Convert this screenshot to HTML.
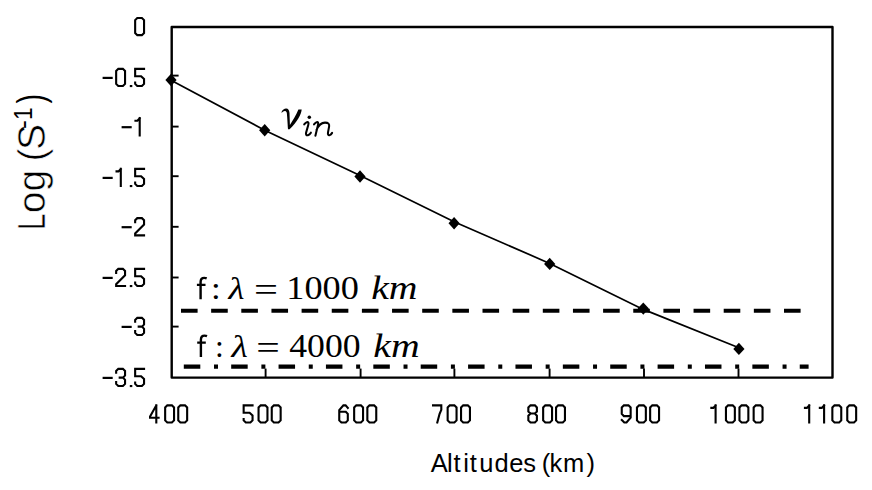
<!DOCTYPE html>
<html><head><meta charset="utf-8">
<style>
html,body{margin:0;padding:0;background:#fff;}
body{width:872px;height:490px;overflow:hidden;}
svg{display:block;}
text{fill:#000;}
</style></head>
<body>
<svg width="872" height="490" viewBox="0 0 872 490">
<defs>
<path id="g0" d="M3.2,1.05H7.8L9.95,3.2V16.1L7.8,18.25H3.2L1.05,16.1V3.2Z"/>
<path id="g1" d="M1.05,3.6H3L5.3,1.2M5.3,1.05V18.25"/>
<path id="g2" d="M1.05,5.2V3.2L3.2,1.05H7.8L9.95,3.2V7.5L1.05,16.4V18.25H9.95"/>
<path id="g3" d="M1.05,5V3.2L3.2,1.05H7.8L9.95,3.2V7.6L8,9.8H4.6M8,9.8L9.95,12V16.1L7.8,18.25H3.2L1.05,16.1V14.2"/>
<path id="g4" d="M7.3,1.05L1.05,12.3V13.4H9.6M7.3,1.05V18.25"/>
<path id="g5" d="M9.95,1.05H1.05V8.4H7L9.95,11.2V16.1L7.8,18.25H3.2L1.05,16.1V14.8"/>
<path id="g6" d="M9.6,3.6L7.4,1.05H5.2L1.05,5.8V16.1L3.2,18.25H7.6L9.6,16.1V9.6L7.6,7.4H1.05"/>
<path id="g7" d="M1.05,1.05H9.3V5.5L7.6,9.5L5.3,18.25"/>
<path id="g8" d="M3.2,1.05H7.6L9.6,3.2V7.2L7.6,9.2H3.2L1.05,7.2V3.2ZM3.2,9.2L1.05,11.4V16.1L3.2,18.25H7.6L9.6,16.1V11.4L7.6,9.2"/>
<path id="g9" d="M1.1,15.7L3.6,18.25H5.8L9.95,13.4V3.2L7.8,1.05H3.2L1.05,3.2V9.6L3.2,11.8H9.95"/>
</defs>
<rect width="872" height="490" fill="#fff"/>
<!-- plot frame -->
<rect x="171.7" y="27" width="660.8" height="350.6" fill="none" stroke="#000" stroke-width="2.4" stroke-linejoin="round"/>
<g stroke="#000" stroke-width="1.9">
<line x1="171.7" y1="75.6" x2="178.6" y2="75.6"/>
<line x1="171.7" y1="126.6" x2="178.6" y2="126.6"/>
<line x1="171.7" y1="176.2" x2="178.6" y2="176.2"/>
<line x1="171.7" y1="226.8" x2="178.6" y2="226.8"/>
<line x1="171.7" y1="277.5" x2="178.6" y2="277.5"/>
<line x1="171.7" y1="326.6" x2="178.6" y2="326.6"/>
<line x1="265.6" y1="377.6" x2="265.6" y2="368.6"/>
<line x1="360.6" y1="377.6" x2="360.6" y2="368.6"/>
<line x1="454.4" y1="377.6" x2="454.4" y2="368.6"/>
<line x1="549.6" y1="377.6" x2="549.6" y2="368.6"/>
<line x1="644" y1="377.6" x2="644" y2="368.6"/>
<line x1="738.5" y1="377.6" x2="738.5" y2="368.6"/>
</g>
<line x1="181" y1="310.8" x2="800.6" y2="310.8" stroke="#000" stroke-width="4.1" stroke-dasharray="16.6 13.55"/>
<line x1="183.8" y1="366.6" x2="808.6" y2="366.6" stroke="#000" stroke-width="4.1" stroke-dasharray="16.5 13.7 4 13.18"/>
<polyline points="171,80.3 264.7,130.2 360,175.4 454.1,221.7 549.7,263.4 643.3,309.4 738.9,347.8" fill="none" stroke="#000" stroke-width="1.7"/>
<g fill="#000">
<path d="M171.0,73.8 L176.6,80.0 L171.0,86.2 L165.4,80.0Z"/>
<path d="M264.7,124.1 L270.3,130.3 L264.7,136.5 L259.1,130.3Z"/>
<path d="M360.0,170.3 L365.6,176.5 L360.0,182.7 L354.4,176.5Z"/>
<path d="M454.1,217.1 L459.7,223.3 L454.1,229.5 L448.5,223.3Z"/>
<path d="M549.7,257.7 L555.3,263.9 L549.7,270.1 L544.1,263.9Z"/>
<path d="M643.3,302.4 L648.9,308.6 L643.3,314.8 L637.7,308.6Z"/>
<path d="M738.9,342.7 L744.5,348.9 L738.9,355.1 L733.3,348.9Z"/>
</g>
<!-- tick labels -->
<g fill="#000">
<g fill="none" stroke="#000" stroke-width="2.1" stroke-linecap="square">
<use href="#g0" x="134.1" y="16.9"/>
<rect fill="#000" stroke="none" x="102.6" y="76.8" width="10.1" height="2.2"/>
<use href="#g0" x="115.1" y="67.8"/>
<rect fill="#000" stroke="none" x="129.8" y="85.0" width="2.5" height="2.1"/>
<use href="#g5" x="134.1" y="67.8"/>
<rect fill="#000" stroke="none" x="121.6" y="126.1" width="10.1" height="2.2"/>
<use href="#g1" x="134.4" y="117.1"/>
<rect fill="#000" stroke="none" x="102.6" y="176.8" width="10.1" height="2.2"/>
<use href="#g1" x="115.5" y="167.8"/>
<rect fill="#000" stroke="none" x="129.8" y="185.0" width="2.5" height="2.1"/>
<use href="#g5" x="134.1" y="167.8"/>
<rect fill="#000" stroke="none" x="121.6" y="226.1" width="10.1" height="2.2"/>
<use href="#g2" x="134.1" y="217.1"/>
<rect fill="#000" stroke="none" x="102.6" y="276.8" width="10.1" height="2.2"/>
<use href="#g2" x="115.1" y="267.8"/>
<rect fill="#000" stroke="none" x="129.8" y="285.0" width="2.5" height="2.1"/>
<use href="#g5" x="134.1" y="267.8"/>
<rect fill="#000" stroke="none" x="121.6" y="325.8" width="10.1" height="2.2"/>
<use href="#g3" x="134.1" y="316.8"/>
<rect fill="#000" stroke="none" x="102.6" y="376.8" width="10.1" height="2.2"/>
<use href="#g3" x="115.1" y="367.8"/>
<rect fill="#000" stroke="none" x="129.8" y="385.0" width="2.5" height="2.1"/>
<use href="#g5" x="134.1" y="367.8"/>
<use href="#g4" x="149.0" y="404.3"/>
<use href="#g0" x="164.1" y="404.3"/>
<use href="#g0" x="177.2" y="404.3"/>
<use href="#g5" x="242.6" y="404.3"/>
<use href="#g0" x="257.5" y="404.3"/>
<use href="#g0" x="270.7" y="404.3"/>
<use href="#g6" x="338.2" y="404.3"/>
<use href="#g0" x="353.1" y="404.3"/>
<use href="#g0" x="366.3" y="404.3"/>
<use href="#g7" x="432.0" y="404.3"/>
<use href="#g0" x="446.6" y="404.3"/>
<use href="#g0" x="460.0" y="404.3"/>
<use href="#g8" x="527.3" y="404.3"/>
<use href="#g0" x="542.1" y="404.3"/>
<use href="#g0" x="555.0" y="404.3"/>
<use href="#g9" x="620.7" y="404.3"/>
<use href="#g0" x="635.9" y="404.3"/>
<use href="#g0" x="649.1" y="404.3"/>
<use href="#g1" x="710.3" y="404.3"/>
<use href="#g0" x="724.9" y="404.3"/>
<use href="#g0" x="738.4" y="404.3"/>
<use href="#g0" x="752.6" y="404.3"/>
<use href="#g1" x="803.9" y="404.3"/>
<use href="#g1" x="818.8" y="404.3"/>
<use href="#g0" x="831.3" y="404.3"/>
<use href="#g0" x="846.2" y="404.3"/>
</g>
</g>
<!-- axis titles -->
<text x="430.8 447.0 453.5 463.3 469.8 479.3 494.5 509.3 523.2 535 541.7 549.5 562.9 586.6" y="471.9" font-family="Liberation Sans" font-size="25.5">Altitudes (km)</text>
<g transform="translate(44.5,228.1) rotate(-90)" stroke="#fff" stroke-width="0.6">
<text transform="translate(-2.08,0) scale(0.77,1)" font-family="Liberation Sans" font-size="39">L</text>
<text x="14.9 36.5 50 66.5 78.2" y="0" font-family="Liberation Sans" font-size="39">og (S</text>
<text transform="translate(99,-12.8) scale(1,1)" font-family="Liberation Sans" font-size="26.7" stroke="none">-</text>
<text transform="translate(108.1,-12.4) scale(0.85,1)" font-family="Liberation Sans" font-size="26.7" stroke="none">1</text>
<text transform="translate(124.7,-0.5) scale(0.72,1)" font-family="Liberation Sans" font-size="39.6" stroke="none">)</text>
</g>
<!-- annotations -->
<path d="M200.6,299.2V282C200.6,278.6 202.2,277.9 204.3,277.9C205.2,277.9 206,278.1 206.7,278.4M196.9,284.9H205.5" fill="none" stroke="#000" stroke-width="2.4"/>
<text transform="translate(210.9,299.2) scale(1.129,1)" font-family="Liberation Serif" font-size="31">:</text>
<text transform="translate(228.6,299.2) scale(1.131,1)" font-family="Liberation Serif" font-size="32.5" font-style="italic">&#955;</text>
<text transform="translate(254.1,301.0) scale(1.289,1)" font-family="Liberation Serif" font-size="33">=</text>
<text transform="translate(286.3,299.2) scale(1.084,1)" font-family="Liberation Serif" font-size="33.5">1000</text>
<text transform="translate(371.2,299.2) scale(1.204,1)" font-family="Liberation Serif" font-size="33" font-style="italic">km</text>
<path d="M200.9,356.9V339.7C200.9,336.3 202.5,335.6 204.6,335.6C205.5,335.6 206.3,335.8 207,336.1M197.2,342.6H205.8" fill="none" stroke="#000" stroke-width="2.4"/>
<text transform="translate(215.0,356.9) scale(1.022,1)" font-family="Liberation Serif" font-size="31">:</text>
<text transform="translate(231.4,356.9) scale(1.159,1)" font-family="Liberation Serif" font-size="32.5" font-style="italic">&#955;</text>
<text transform="translate(256.2,359.0) scale(1.264,1)" font-family="Liberation Serif" font-size="33">=</text>
<text transform="translate(289.2,356.9) scale(1.066,1)" font-family="Liberation Serif" font-size="33.5">4000</text>
<text transform="translate(373.3,356.9) scale(1.204,1)" font-family="Liberation Serif" font-size="33" font-style="italic">km</text>
<path d="M281.4,112.2C282.5,109.8 284.5,108.5 286.2,108.6C288.3,108.7 289.2,110.2 289.5,113L289.9,125C292.2,121 296.2,115 298.4,109.4L301.7,109.4C301.2,114.5 297.3,121.5 289.6,129.3L288,129.3C287.6,123 287.2,116 286.8,113C286.5,111.6 285.6,111 284.8,111C283.7,111 282.7,111.8 281.9,112.8Z" fill="#000"/>
<circle cx="309.3" cy="117.2" r="1.75" fill="#000"/>
<path d="M304.2,124.4C305.5,122.6 307.6,121.4 308.4,122.8C308.7,123.4 308.5,124.3 308.2,125.3L306.1,132.6C305.6,134.7 306.5,135.6 307.9,135.2C309,134.9 310.2,133.8 310.9,132.7M314,124.4C315.3,122.6 317.4,121.4 318.1,122.8C318.4,123.4 318.1,124.6 317.8,125.8L315.4,135.8M316.5,130C318.6,125 321.8,122.6 325,122.6C328.4,122.6 329.6,124 329.1,126.6L328,132.4C327.6,134.6 328.4,135.6 329.7,135.1C330.6,134.8 331.5,133.9 332.1,132.9" fill="none" stroke="#000" stroke-width="2.05" stroke-linecap="round" stroke-linejoin="round"/>
</svg>
</body></html>
